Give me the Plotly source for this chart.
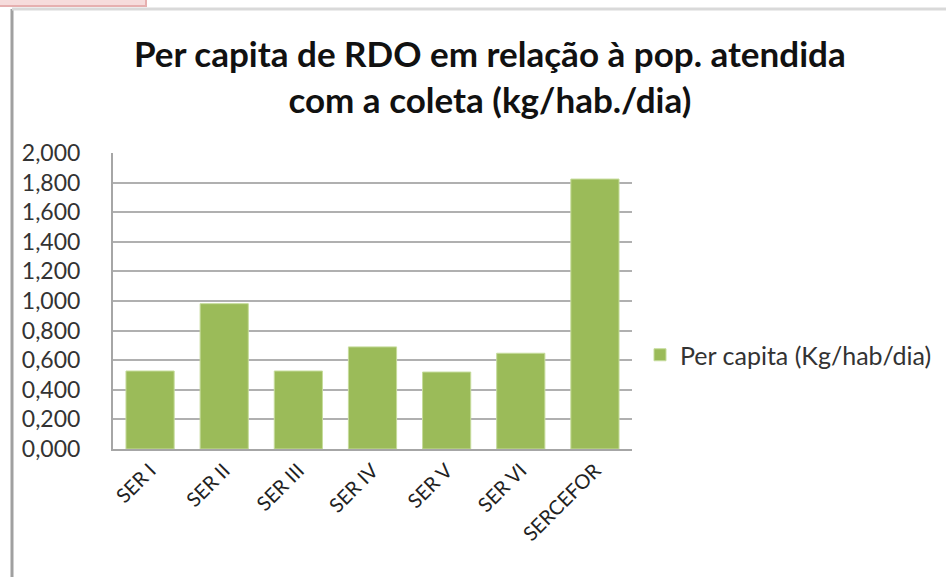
import plotly.graph_objects as go

# regionais de Fortaleza
regioes = ['SER I', 'SER II', 'SER III', 'SER IV', 'SER V', 'SER VI', 'SERCEFOR']
per_capita = [0.527, 0.982, 0.527, 0.69, 0.52, 0.647, 1.824]
serie = 'Per capita (Kg/hab/dia)'

y_ticks = [0, 0.2, 0.4, 0.6, 0.8, 1.0, 1.2, 1.4, 1.6, 1.8, 2.0]
y_labels = ['0,000', '0,200', '0,400', '0,600', '0,800', '1,000',
            '1,200', '1,400', '1,600', '1,800', '2,000']

titulo = 'Per capita de RDO em relação à pop. atendida<br>com a coleta (kg/hab./dia)'

fonte = 'Lato, Calibri, sans-serif'

# area do grafico em pixels: x 113..632, y 153..449
L, R, T, B = 113, 319, 153, 128
PW, PH = 951 - L - R, 577 - T - B


def px(x):
    return (x - L) / PW


def py(y):
    return (577 - B - y) / PH


fig = go.Figure()

fig.add_trace(go.Bar(
    x=regioes,
    y=per_capita,
    name=serie,
    marker=dict(color='#9bbb59', line=dict(color='#c6dc9c', width=1)),
    showlegend=True,
))

fig.update_layout(
    width=951, height=577,
    margin=dict(l=L, r=R, t=T, b=B, autoexpand=False),
    paper_bgcolor='white',
    plot_bgcolor='white',
    bargap=0.35,
    font=dict(family=fonte, color='#222222'),
    legend=dict(
        x=px(640), xanchor='left',
        y=py(355), yanchor='middle',
        font=dict(family=fonte, size=25, color='#333333'),
        bgcolor='rgba(0,0,0,0)',
    ),
    xaxis=dict(
        tickangle=-45,
        tickfont=dict(family=fonte, size=20, color='#222222'),
        showline=True, linecolor='#a6a6a6', linewidth=2,
        showgrid=False,
        automargin=False,
    ),
    yaxis=dict(
        range=[0, 2.0],
        tickvals=y_ticks,
        ticktext=y_labels,
        tickfont=dict(family=fonte, size=23, color='#333333'),
        ticklabelstandoff=26,
        showline=True, linecolor='#a6a6a6', linewidth=2,
        showgrid=True, gridcolor='#b0b0b0', gridwidth=2,
        zeroline=False,
        automargin=False,
    ),
    annotations=[
        dict(text=titulo, xref='paper', yref='paper',
             x=px(490), y=py(76), xanchor='center', yanchor='middle',
             showarrow=False,
             font=dict(family=fonte, size=35, color='#111111', weight='bold')),
    ],
    shapes=[
        # moldura da area do grafico
        dict(type='line', xref='paper', yref='paper',
             x0=px(12), x1=px(12), y0=py(577), y1=py(9),
             line=dict(color='#a0a0a0', width=3)),
        dict(type='line', xref='paper', yref='paper',
             x0=px(12), x1=px(946), y0=py(9), y1=py(9),
             line=dict(color='#d9d9d9', width=3)),
        # aba rosa no canto superior esquerdo
        dict(type='rect', xref='paper', yref='paper',
             x0=px(-2), x1=px(146), y0=py(6), y1=py(-2),
             fillcolor='#f6dcdc', line=dict(color='#e6b0b0', width=2)),
    ],
)

fig.write_html("out.html", config={'displayModeBar': False},
               post_script="document.body.style.margin='0';")
